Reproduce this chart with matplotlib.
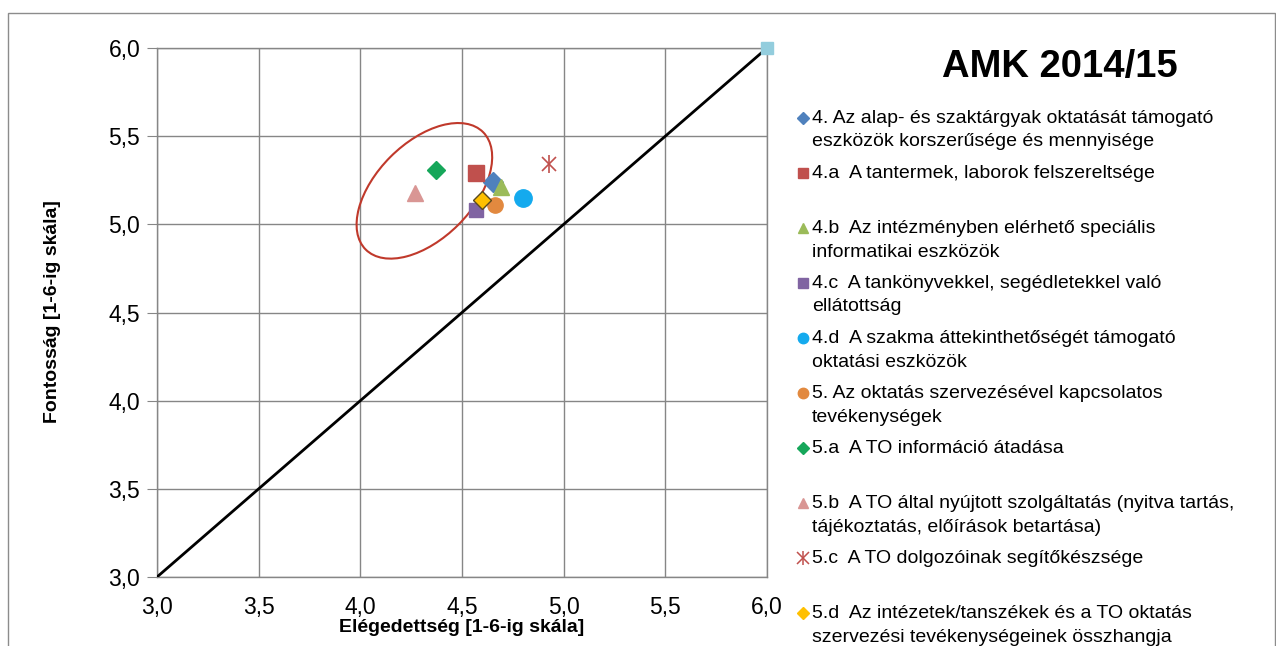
import numpy as np
import matplotlib
matplotlib.use("Agg")
import matplotlib.pyplot as plt
from matplotlib.patches import Ellipse, Rectangle
from matplotlib.lines import Line2D
from matplotlib.transforms import ScaledTranslation

plt.rcParams['font.family'] = ['Liberation Sans', 'DejaVu Sans']

# --- data ---
labels = [
    "4. Az alap- és szaktárgyak oktatását támogató\neszközök korszerűsége és mennyisége",
    "4.a  A tantermek, laborok felszereltsége",
    "4.b  Az intézményben elérhető speciális\ninformatikai eszközök",
    "4.c  A tankönyvekkel, segédletekkel való\nellátottság",
    "4.d  A szakma áttekinthetőségét támogató\noktatási eszközök",
    "5. Az oktatás szervezésével kapcsolatos\ntevékenységek",
    "5.a  A TO információ átadása",
    "5.b  A TO által nyújtott szolgáltatás (nyitva tartás,\ntájékoztatás, előírások betartása)",
    "5.c  A TO dolgozóinak segítőkészsége",
    "5.d  Az intézetek/tanszékek és a TO oktatás\nszervezési tevékenységeinek összhangja",
]
satisfaction = [4.65, 4.57, 4.69, 4.57, 4.80, 4.66, 4.37, 4.27, 4.93, 4.60]
importance = [5.24, 5.29, 5.21, 5.08, 5.15, 5.11, 5.31, 5.18, 5.34, 5.14]
colors = ['#4F81BD', '#C0504D', '#9BBB59', '#8064A2', '#14AAEE',
          '#E2893F', '#16A75A', '#D99694', '#C0504D', '#FFC000']
markers = ['D', 's', '^', 's', 'o', 'o', 'D', '^', 'star', 'D']
sizes = [10, 11, 11, 10.5, 12.5, 11, 9.5, 11, 12, 9]

diag_x = [3.0, 6.0]
diag_y = [3.0, 6.0]
ticks = [3.0, 3.5, 4.0, 4.5, 5.0, 5.5, 6.0]
tick_labels = ["3,0", "3,5", "4,0", "4,5", "5,0", "5,5", "6,0"]

W, H = 1276, 646
fig = plt.figure(figsize=(W / 100, H / 100), dpi=100)
fig.patches.append(Rectangle((8 / W, -0.01), (1275 - 8) / W, 1 - 13 / H + 0.01,
                             transform=fig.transFigure, fill=False,
                             edgecolor='#8c8c8c', lw=1))

ax = fig.add_axes([157 / W, (H - 577) / H, 610 / W, 529 / H])
ax.set_xlim(3, 6)
ax.set_ylim(3, 6)
ax.set_xticks(ticks)
ax.set_yticks(ticks)
ax.set_xticklabels(tick_labels, fontsize=16.5)
ax.set_yticklabels(tick_labels, fontsize=16.5)
ax.tick_params(axis='y', length=7, color='#868686', pad=5)
ax.tick_params(axis='x', length=0, pad=14)
ax.grid(True, color='#868686', lw=1)
ax.set_axisbelow(True)
for s in ax.spines.values():
    s.set_color('#868686')
    s.set_linewidth(1)

ax.plot(diag_x, diag_y, color='black', lw=2, zorder=3)
ax.plot(diag_x[-1], diag_y[-1], marker='s', color='#93CDDD', ms=8, zorder=4,
        clip_on=False)

for x, y, c, m, s in zip(satisfaction, importance, colors, markers, sizes):
    if m == 'star':
        ax.plot(x, y, marker='x', color=c, ms=s * 0.85, mew=1.2, zorder=5)
        ax.plot(x, y, marker='|', color=c, ms=s * 1.1, mew=1.2, zorder=5)
    elif c == '#FFC000':
        ax.plot(x, y, marker=m, mfc=c, mec='#5a4a20', mew=1, ms=s, zorder=6)
    else:
        ax.plot(x, y, marker=m, color=c, ms=s, lw=0, zorder=5)

# highlight ellipse (size in inches so it is not distorted by axis scales)
trans = fig.dpi_scale_trans + ScaledTranslation(4.315, 5.19, ax.transData)
ax.add_patch(Ellipse((0, 0), 1.66, 0.96, angle=45, transform=trans,
                     fill=False, edgecolor='#C0392B', lw=1.5, zorder=4))

fig.text(462 / W, 1 - 627 / H, "Elégedettség [1-6-ig skála]", fontsize=14,
         fontweight='bold', ha='center', va='center')
fig.text(53 / W, 1 - 312 / H, "Fontosság [1-6-ig skála]", fontsize=14,
         fontweight='bold', rotation=90, ha='center', va='center')

fig.text(1060 / W, 1 - 67 / H, "AMK 2014/15", fontsize=27.5, fontweight='bold',
         ha='center', va='center')

# legend, drawn by hand to keep Excel's fixed slots
leg_marker = {'D': 'D', 's': 's', '^': '^', 'o': 'o'}
for i, (lab, c, m) in enumerate(zip(labels, colors, markers)):
    ypx = 118 + 55 * i
    yf = 1 - ypx / H
    xm = 803 / W
    if m == 'star':
        fig.add_artist(Line2D([xm], [yf], marker='x', color=c, ms=8, mew=1.1))
        fig.add_artist(Line2D([xm], [yf], marker='|', color=c, ms=10, mew=1.1))
    else:
        ms = 6.5 if m == 'D' else 7.5
        fig.add_artist(Line2D([xm], [yf], marker=leg_marker[m], color=c,
                              ms=ms, lw=0))
    fig.text(812 / W, yf, lab, fontsize=14, ha='left', va='top',
             linespacing=1.5,
             transform=fig.transFigure + ScaledTranslation(0, 8 / 100,
                                                           fig.dpi_scale_trans))

fig.savefig("out.png", dpi=100)
